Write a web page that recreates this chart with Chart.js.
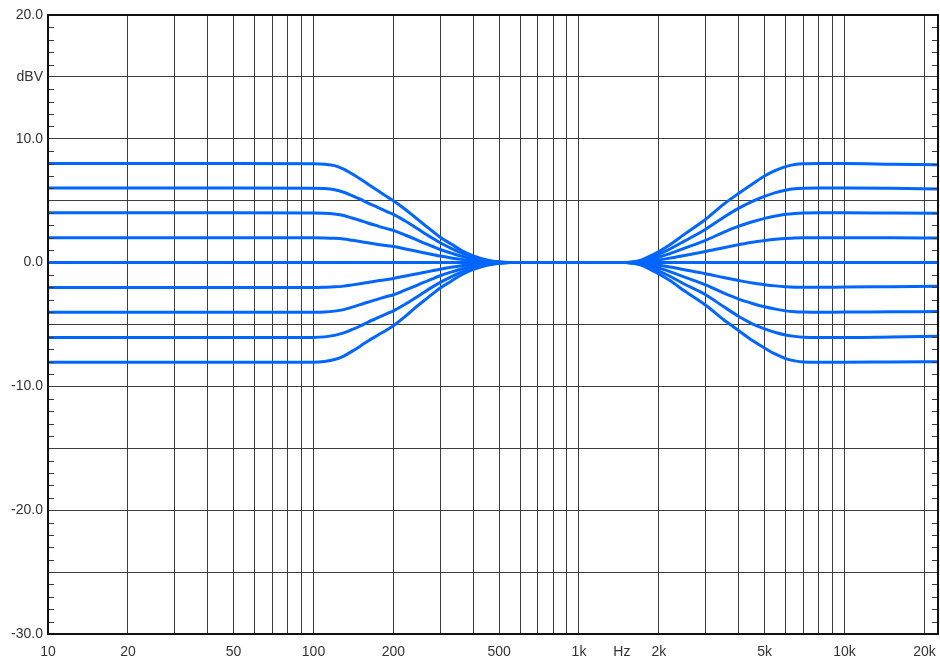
<!DOCTYPE html>
<html>
<head>
<meta charset="utf-8">
<title>Shelving EQ response</title>
<script src="https://cdn.jsdelivr.net/npm/chart.js@4.4.1/dist/chart.umd.min.js"></script>
<style>
  html, body { margin: 0; padding: 0; background: #fff; }
  #wrap { width: 940px; height: 662px; position: relative; }
</style>
</head>
<body>
<div id="wrap"><canvas id="eq"></canvas></div>
<script>
// frequency points (Hz)
const freqs = [10, 20, 50, 100,
    110, 120, 130, 140, 150, 160, 175, 190, 200,
    220, 240, 260, 280, 300, 330, 360, 400, 450, 500, 550,
    800, 1000, 1500,
    1600, 1700, 1800, 2000, 2200, 2500, 3000, 3500, 4000, 4500, 5000, 5500, 6000, 6500, 7000,
    8000, 10000, 15000, 22500];

// level in dBV for each curve
const gainP8 = [8.0, 8.0, 8.0, 7.99,
    7.95, 7.83, 7.55, 7.15, 6.75, 6.35, 5.8, 5.3, 5.0,
    4.35, 3.7, 3.1, 2.55, 2.05, 1.5, 1.0, 0.55, 0.22, 0.05, 0,
    0, 0, 0,
    0.05, 0.18, 0.4, 0.9, 1.45, 2.3, 3.5, 4.7, 5.6, 6.35, 7.0, 7.45, 7.75, 7.92, 7.98,
    8.0, 8.0, 7.95, 7.9];
const gainP6 = [6.02, 6.02, 6.02, 6.01,
    5.98, 5.88, 5.68, 5.4, 5.12, 4.82, 4.45, 4.1, 3.9,
    3.4, 2.9, 2.42, 1.98, 1.6, 1.15, 0.78, 0.42, 0.17, 0.04, 0,
    0, 0, 0,
    0.04, 0.14, 0.3, 0.68, 1.1, 1.75, 2.7, 3.65, 4.4, 4.95, 5.35, 5.65, 5.85, 5.96, 6.0,
    6.02, 6.02, 6.0, 5.95];
const gainP4 = [4.02, 4.02, 4.02, 4.01,
    3.99, 3.92, 3.8, 3.6, 3.4, 3.2, 2.95, 2.72, 2.6,
    2.25, 1.92, 1.6, 1.32, 1.06, 0.77, 0.52, 0.28, 0.11, 0.03, 0,
    0, 0, 0,
    0.03, 0.09, 0.2, 0.45, 0.73, 1.17, 1.8, 2.45, 2.95, 3.3, 3.57, 3.76, 3.9, 3.97, 4.0,
    4.02, 4.02, 4.0, 3.98];
const gainP2 = [2.0, 2.0, 2.0, 2.0,
    1.99, 1.96, 1.9, 1.8, 1.7, 1.6, 1.47, 1.36, 1.3,
    1.12, 0.95, 0.8, 0.66, 0.53, 0.38, 0.26, 0.14, 0.06, 0.015, 0,
    0, 0, 0,
    0.015, 0.05, 0.1, 0.22, 0.36, 0.58, 0.9, 1.2, 1.45, 1.65, 1.78, 1.88, 1.95, 1.99, 2.0,
    2.0, 2.0, 2.0, 1.98];
const gain0 = [0, 0, 0, 0,
    0, 0, 0, 0, 0, 0, 0, 0, 0,
    0, 0, 0, 0, 0, 0, 0, 0, 0, 0, 0,
    0, 0, 0,
    0, 0, 0, 0, 0, 0, 0, 0, 0, 0, 0, 0, 0, 0, 0,
    0, 0, 0, 0];
const gainM2 = [-2.02, -2.02, -2.02, -2.01,
    -1.99, -1.96, -1.9, -1.8, -1.7, -1.6, -1.47, -1.36, -1.28,
    -1.1, -0.94, -0.8, -0.66, -0.53, -0.38, -0.26, -0.14, -0.06, -0.015, 0,
    0, 0, 0,
    -0.015, -0.05, -0.1, -0.22, -0.36, -0.58, -0.9, -1.2, -1.45, -1.65, -1.78, -1.88, -1.95, -1.99, -2.0,
    -2.0, -1.98, -1.95, -1.92];
const gainM4 = [-4.02, -4.02, -4.02, -4.01,
    -3.99, -3.92, -3.8, -3.6, -3.4, -3.2, -2.95, -2.72, -2.6,
    -2.25, -1.92, -1.6, -1.32, -1.06, -0.77, -0.52, -0.28, -0.11, -0.03, 0,
    0, 0, 0,
    -0.03, -0.09, -0.2, -0.45, -0.73, -1.17, -1.8, -2.45, -2.95, -3.3, -3.57, -3.76, -3.9, -3.97, -4.0,
    -4.02, -4.0, -3.98, -3.95];
const gainM6 = [-6.05, -6.05, -6.05, -6.04,
    -6.0, -5.88, -5.68, -5.4, -5.12, -4.82, -4.45, -4.1, -3.9,
    -3.4, -2.9, -2.42, -1.98, -1.6, -1.15, -0.78, -0.42, -0.17, -0.04, 0,
    0, 0, 0,
    -0.04, -0.14, -0.3, -0.68, -1.1, -1.75, -2.6, -3.55, -4.35, -4.95, -5.35, -5.65, -5.85, -5.96, -6.02,
    -6.05, -6.05, -6.0, -5.95];
const gainM8 = [-8.05, -8.05, -8.05, -8.04,
    -7.98, -7.83, -7.55, -7.15, -6.75, -6.35, -5.85, -5.4, -5.1,
    -4.4, -3.7, -3.1, -2.55, -2.05, -1.5, -1.0, -0.55, -0.22, -0.05, 0,
    0, 0, 0,
    -0.05, -0.18, -0.4, -0.92, -1.45, -2.3, -3.45, -4.6, -5.5, -6.3, -6.9, -7.4, -7.75, -7.94, -8.03,
    -8.05, -8.05, -8.02, -8.0];

const curves = [gainP8, gainP6, gainP4, gainP2, gain0, gainM2, gainM4, gainM6, gainM8];

// axis ticks and labels
const xGrid = [10, 20, 30, 40, 50, 60, 70, 80, 90, 100, 200, 300, 400, 500, 600, 700, 800, 900,
    1000, 1450, 2000, 3000, 4000, 5000, 6000, 7000, 8000, 9000, 10000, 20000];
const xLabels = { 10: '10', 20: '20', 50: '50', 100: '100', 200: '200', 500: '500',
    1000: '1k', 1450: 'Hz', 2000: '2k', 5000: '5k', 10000: '10k', 20000: '20k' };
const yGrid = [-30, -25, -20, -15, -10, -5, 0, 5, 10, 15, 20];
const yLabels = { 20: '20.0', 15: 'dBV', 10: '10.0', 0: '0.0', '-10': '-10.0', '-20': '-20.0', '-30': '-30.0' };
const yMinor = [-29, -28, -27, -26, -24, -23, -22, -21, -19, -18, -17, -16, -14, -13, -12, -11,
    -9, -8, -7, -6, -4, -3, -2, -1, 1, 2, 3, 4, 6, 7, 8, 9, 11, 12, 13, 14, 16, 17, 18, 19];

const LINE = '#0066ff';
const GRID = '#3c3c3c';

// frame round the plot and the little 1 dB ticks on both sides
const framePlugin = {
    id: 'frame',
    afterDatasetsDraw(chart) {
        const ctx = chart.ctx;
        const a = chart.chartArea;
        const y = chart.scales.y;
        ctx.save();
        ctx.strokeStyle = GRID;
        ctx.lineWidth = 1;
        ctx.beginPath();
        yMinor.forEach(v => {
            const py = Math.round(y.getPixelForValue(v)) + 0.5;
            ctx.moveTo(a.left, py);
            ctx.lineTo(a.left + 6, py);
            ctx.moveTo(a.right - 6, py);
            ctx.lineTo(a.right, py);
        });
        ctx.stroke();
        ctx.strokeStyle = '#111';
        ctx.lineWidth = 2;
        ctx.strokeRect(a.left, a.top, a.right - a.left, a.bottom - a.top);
        ctx.restore();
    }
};

new Chart(document.getElementById('eq'), {
    type: 'line',
    data: {
        datasets: curves.map((c, i) => ({
            label: 'curve ' + (i + 1),
            data: freqs.map((f, k) => ({ x: f, y: c[k] })),
            borderColor: LINE,
            borderWidth: 3,
            pointRadius: 0,
            fill: false,
            cubicInterpolationMode: 'monotone'
        }))
    },
    options: {
        responsive: true,
        maintainAspectRatio: false,
        animation: false,
        devicePixelRatio: 1,
        layout: { padding: { top: 15, right: 2, left: 0, bottom: 0 } },
        plugins: { legend: { display: false }, tooltip: { enabled: false } },
        scales: {
            x: {
                type: 'logarithmic',
                min: 10,
                max: 22500,
                afterBuildTicks: scale => { scale.ticks = xGrid.map(v => ({ value: v })); },
                afterFit: scale => {
                    scale.height = 28;
                    scale.paddingLeft = 0;
                    scale.paddingRight = 0;
                },
                border: { display: false },
                grid: {
                    drawTicks: false,
                    lineWidth: 1,
                    color: c => (c.tick && c.tick.value === 1450) ? 'rgba(0,0,0,0)' : GRID
                },
                ticks: {
                    autoSkip: false,
                    maxRotation: 0,
                    padding: 10,
                    color: '#333',
                    font: { family: '"Liberation Sans", Arial, sans-serif', size: 14 },
                    callback: v => xLabels[v] || ''
                }
            },
            y: {
                type: 'linear',
                min: -30,
                max: 20,
                afterBuildTicks: scale => { scale.ticks = yGrid.map(v => ({ value: v })); },
                afterFit: scale => { scale.width = 48; },
                border: { display: false },
                grid: { drawTicks: false, lineWidth: 1, color: GRID },
                ticks: {
                    autoSkip: false,
                    padding: 5,
                    color: '#333',
                    font: { family: '"Liberation Sans", Arial, sans-serif', size: 14 },
                    callback: v => yLabels[v] || ''
                }
            }
        }
    },
    plugins: [framePlugin]
});
</script>
</body>
</html>
